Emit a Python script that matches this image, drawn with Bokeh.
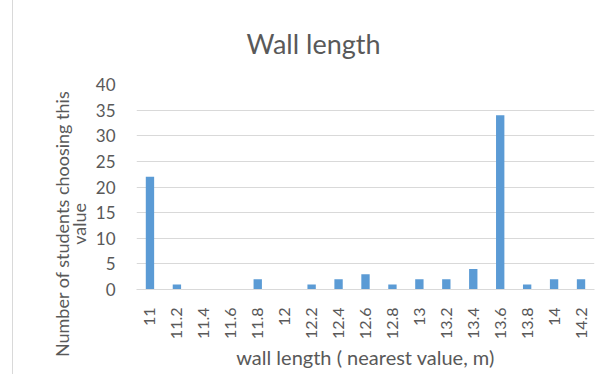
import math
from bokeh.plotting import figure
from bokeh.models import Range1d, FactorRange, FixedTicker, ColumnDataSource
from bokeh.embed import file_html
from bokeh.resources import INLINE

categories = ["11", "11.2", "11.4", "11.6", "11.8", "12", "12.2", "12.4", "12.6",
              "12.8", "13", "13.2", "13.4", "13.6", "13.8", "14", "14.2"]
counts = [22, 1, 0, 0, 2, 0, 1, 2, 3, 1, 2, 2, 4, 34, 1, 2, 2]
y_ticks = [0, 5, 10, 15, 20, 25, 30, 35, 40]

FONT = "Lato"
TXT = "#595959"
GRID = "#d9d9d9"
BAR = "#5b9bd5"
PAD = "\u00a0" * 16

src = ColumnDataSource(data=dict(cat=categories, n=counts))

p = figure(width=584, height=377, output_backend="svg", toolbar_location=None,
           x_range=FactorRange(*categories, range_padding=0),
           y_range=Range1d(0, 40),
           min_border_left=123, min_border_right=3,
           min_border_top=87, min_border_bottom=85)
p.styles = {"margin-left": "12px", "margin-top": "-3px",
            "border-left": "1px solid #d9d9d9"}
p.outline_line_color = None
p.background_fill_color = "white"
p.border_fill_color = "white"

p.title.text = "Wall length"
p.title.align = "left"
p.title.offset = 110
p.title.text_font = FONT
p.title.text_font_size = "27px"
p.title.text_font_style = "normal"
p.title.text_color = TXT
p.title.standoff = 49

p.vbar(x="cat", top="n", width=0.31, source=src, fill_color=BAR, line_color=None)

p.xgrid.grid_line_color = None
p.ygrid.grid_line_color = GRID
p.ygrid.grid_line_width = 1

p.yaxis.ticker = FixedTicker(ticks=y_ticks)
p.yaxis.axis_line_color = None
p.yaxis.major_tick_line_color = None
p.yaxis.minor_tick_line_color = None
p.yaxis.major_label_text_font = FONT
p.yaxis.major_label_text_font_size = "17px"
p.yaxis.major_label_text_color = TXT
p.yaxis.major_label_standoff = 15
p.yaxis.axis_label = "Number of students choosing this" + PAD + "\nvalue" + PAD
p.yaxis.axis_label_text_font = FONT
p.yaxis.axis_label_text_font_size = "18px"
p.yaxis.axis_label_text_font_style = "normal"
p.yaxis.axis_label_text_color = TXT
p.yaxis.axis_label_text_line_height = 0.75
p.yaxis.axis_label_standoff = 3

p.xaxis.axis_line_color = GRID
p.xaxis.major_tick_line_color = None
p.xaxis.minor_tick_line_color = None
p.xaxis.major_label_orientation = math.pi / 2
p.xaxis.major_label_text_font = FONT
p.xaxis.major_label_text_font_size = "16px"
p.xaxis.major_label_text_color = TXT
p.xaxis.major_label_standoff = 12
p.xaxis.axis_label = "wall length ( nearest value, m)"
p.xaxis.axis_label_text_font = FONT
p.xaxis.axis_label_text_font_size = "20px"
p.xaxis.axis_label_text_font_style = "normal"
p.xaxis.axis_label_text_color = TXT
p.xaxis.axis_label_standoff = 3

open("out.html", "w").write(file_html(p, INLINE))
